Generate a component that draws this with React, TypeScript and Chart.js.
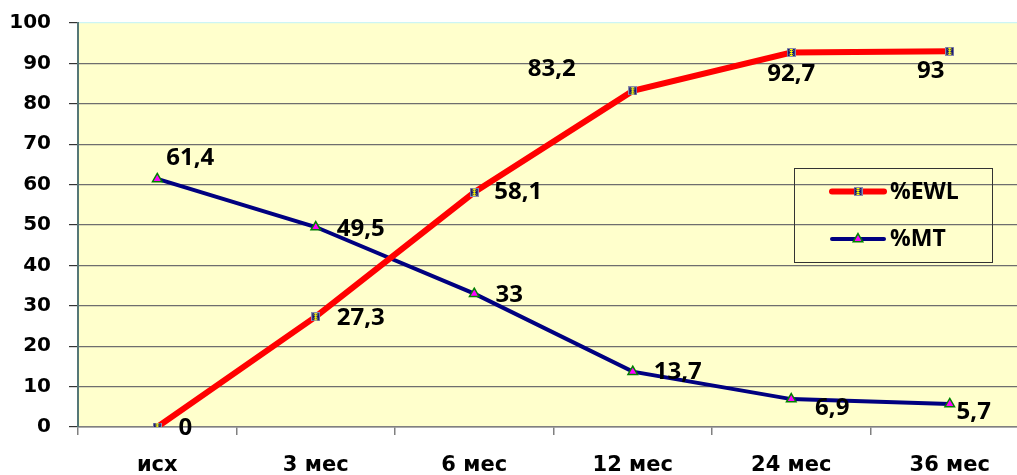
import React, { useEffect, useRef } from "react";
import { Chart, registerables } from "chart.js";

Chart.register(...registerables);

const categories = ["исх", "3 мес", "6 мес", "12 мес", "24 мес", "36 мес"];
const ewlValues = [0, 27.3, 58.1, 83.2, 92.7, 93];
const mtValues = [61.4, 49.5, 33, 13.7, 6.9, 5.7];
const seriesNames = ["%EWL", "%MT"];
const yMin = 0;
const yMax = 100;
const yStep = 10;

// label offsets (style, px) relative to each point
const ewlLabelOffsets = [
  [28, 1], [45, 1], [44, 0], [-81, -22], [0, 22], [-19, 20],
];
const mtLabelOffsets = [
  [33, -21], [45, 2], [35, 1], [45, 1], [41, 9], [24, 8],
];

const FONT = "'Open Sans', 'DejaVu Sans', sans-serif";
const AXIS_FONT = "'DejaVu Sans', sans-serif";

function makeEwlMarker(): HTMLCanvasElement {
  const c = document.createElement("canvas");
  c.width = 9;
  c.height = 9;
  const g = c.getContext("2d")!;
  g.fillStyle = "#8c8caa";
  g.fillRect(0, 0, 9, 9);
  g.fillStyle = "#141478";
  g.fillRect(1, 1, 7, 7);
  g.strokeStyle = "#ffff00";
  g.lineWidth = 1;
  g.beginPath();
  g.moveTo(2.5, 2.5);
  g.lineTo(6.5, 6.5);
  g.moveTo(6.5, 2.5);
  g.lineTo(2.5, 6.5);
  g.moveTo(4.5, 1.5);
  g.lineTo(4.5, 7.5);
  g.moveTo(3, 1.5);
  g.lineTo(6, 1.5);
  g.moveTo(3, 7.5);
  g.lineTo(6, 7.5);
  g.stroke();
  return c;
}

function drawTriangle(ctx: CanvasRenderingContext2D, x: number, y: number, r: number) {
  ctx.save();
  ctx.fillStyle = "#ff00ff";
  ctx.strokeStyle = "#008000";
  ctx.lineWidth = 1.5;
  ctx.beginPath();
  let rad = 0;
  ctx.moveTo(x + Math.sin(rad) * r, y - Math.cos(rad) * r);
  rad += (2 * Math.PI) / 3;
  ctx.lineTo(x + Math.sin(rad) * r, y - Math.cos(rad) * r);
  rad += (2 * Math.PI) / 3;
  ctx.lineTo(x + Math.sin(rad) * r, y - Math.cos(rad) * r);
  ctx.closePath();
  ctx.fill();
  ctx.stroke();
  ctx.restore();
}

export default function App() {
  const ref = useRef<HTMLCanvasElement | null>(null);

  useEffect(() => {
    if (!ref.current) return;
    const marker = makeEwlMarker();

    const bgPlugin = {
      id: "bgPlugin",
      beforeDraw(chart: any) {
        const { ctx, chartArea } = chart;
        ctx.save();
        ctx.fillStyle = "#ffffcc";
        ctx.fillRect(chartArea.left, chartArea.top, chartArea.right - chartArea.left, chartArea.bottom - chartArea.top);
        ctx.restore();
      },
    };

    const labelPlugin = {
      id: "labelPlugin",
      afterDatasetsDraw(chart: any) {
        const ctx = chart.ctx;
        ctx.save();
        ctx.font = `bold 24px ${FONT}`;
        ctx.fillStyle = "#000000";
        ctx.textAlign = "center";
        ctx.textBaseline = "middle";
        const sets = [
          { vals: ewlValues, offs: ewlLabelOffsets, idx: 0 },
          { vals: mtValues, offs: mtLabelOffsets, idx: 1 },
        ];
        sets.forEach((s) => {
          const meta = chart.getDatasetMeta(s.idx);
          meta.data.forEach((pt: any, i: number) => {
            const txt = String(s.vals[i]).replace(".", ",");
            ctx.fillText(txt, pt.x + s.offs[i][0], pt.y + s.offs[i][1]);
          });
        });
        ctx.restore();
      },
    };

    const legendPlugin = {
      id: "legendPlugin",
      afterDraw(chart: any) {
        const ctx = chart.ctx;
        ctx.save();
        ctx.strokeStyle = "#333333";
        ctx.lineWidth = 1;
        ctx.strokeRect(794.5, 168.5, 198, 94);
        ctx.lineCap = "round";
        ctx.strokeStyle = "#ff0000";
        ctx.lineWidth = 6;
        ctx.beginPath();
        ctx.moveTo(832, 191.5);
        ctx.lineTo(884, 191.5);
        ctx.stroke();
        ctx.drawImage(marker, 858 - 4.5, 191.5 - 4.5);
        ctx.strokeStyle = "#000080";
        ctx.lineWidth = 4;
        ctx.beginPath();
        ctx.moveTo(832, 239);
        ctx.lineTo(884, 239);
        ctx.stroke();
        drawTriangle(ctx, 858, 239, 5.5);
        ctx.fillStyle = "#000000";
        ctx.font = `bold 23px ${FONT}`;
        ctx.textAlign = "left";
        ctx.textBaseline = "middle";
        ctx.fillText(seriesNames[0], 890, 192);
        ctx.fillText(seriesNames[1], 890, 239);
        ctx.restore();
      },
    };

    const chart = new Chart(ref.current, {
      type: "line",
      data: {
        labels: categories,
        datasets: [
          {
            label: seriesNames[0],
            data: ewlValues,
            borderColor: "#ff0000",
            borderWidth: 6,
            pointStyle: marker as any,
            pointRadius: 5,
            tension: 0,
            fill: false,
          },
          {
            label: seriesNames[1],
            data: mtValues,
            borderColor: "#000080",
            borderWidth: 4,
            pointStyle: "triangle",
            pointRadius: 5.5,
            pointBackgroundColor: "#ff00ff",
            pointBorderColor: "#008000",
            pointBorderWidth: 1.5,
            tension: 0,
            fill: false,
          },
        ],
      },
      options: {
        responsive: false,
        animation: false,
        layout: { padding: { top: 23, right: 9, bottom: 0, left: 0 } },
        plugins: {
          legend: { display: false },
          tooltip: { enabled: false },
        },
        scales: {
          x: {
            type: "category",
            offset: true,
            grid: {
              offset: true,
              drawOnChartArea: false,
              drawTicks: true,
              tickLength: 8,
              color: "#808080",
              lineWidth: 1.5,
            },
            border: { display: true, color: "#808080", width: 1.5 },
            ticks: {
              color: "#000000",
              font: { family: AXIS_FONT, size: 21, weight: "bold" },
              padding: 18,
              maxRotation: 0,
              autoSkip: false,
            },
            afterFit(scale: any) {
              scale.height = 48;
              scale.paddingLeft = 0;
              scale.paddingRight = 0;
            },
          },
          y: {
            min: yMin,
            max: yMax,
            ticks: {
              stepSize: yStep,
              color: "#000000",
              font: { family: AXIS_FONT, size: 20, weight: "bold" },
              padding: 18,
            },
            grid: {
              color: (c: any) => (c.tick && c.tick.value === yMax ? "#ccf5f5" : "#6e6e6e"),
              tickColor: "#333333",
              tickLength: 9,
              lineWidth: 1.2,
            },
            border: { display: true, color: "#557777", width: 2 },
            afterFit(scale: any) {
              scale.width = 78;
              scale.paddingTop = 0;
              scale.paddingBottom = 0;
            },
          },
        },
      },
      plugins: [bgPlugin, labelPlugin, legendPlugin],
    });
    return () => chart.destroy();
  }, []);

  return (
    <div style={{ position: "fixed", left: 0, top: 0, width: 1017, height: 475, overflow: "hidden", background: "#ffffff" }}>
      <canvas ref={ref} width={1040} height={475} style={{ display: "block" }} />
    </div>
  );
}
